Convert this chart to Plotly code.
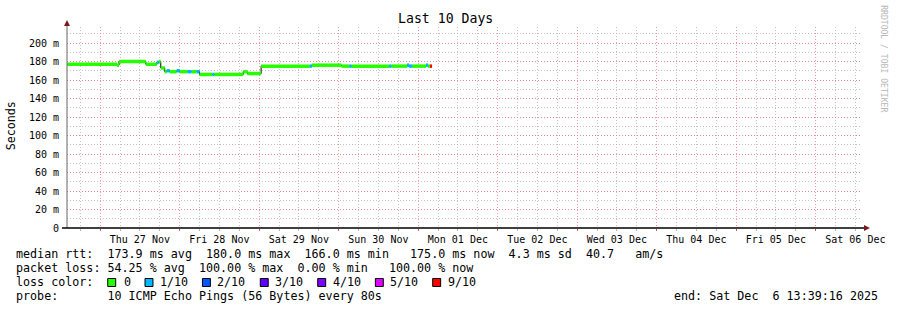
import plotly.graph_objects as go

# ---------------- data ----------------
# median RTT steps (start time, median rtt in ms, lost pings out of 10)
seg_start = [
    "2025-11-26 14:06", "2025-11-27 05:06", "2025-11-27 05:42", "2025-11-27 13:48",
    "2025-11-27 17:06", "2025-11-27 17:42", "2025-11-27 18:18", "2025-11-27 19:30",
    "2025-11-27 20:06", "2025-11-27 21:00", "2025-11-27 23:06", "2025-11-28 00:00",
    "2025-11-28 02:24", "2025-11-28 03:36", "2025-11-28 05:06", "2025-11-28 06:00",
    "2025-11-28 09:54", "2025-11-28 10:30", "2025-11-28 19:12", "2025-11-28 20:24",
    "2025-11-29 00:36", "2025-11-29 15:18", "2025-11-29 15:54", "2025-11-30 00:54",
    "2025-11-30 03:18", "2025-11-30 03:54", "2025-11-30 15:18", "2025-11-30 15:54",
    "2025-11-30 20:42", "2025-11-30 21:18", "2025-11-30 22:12", "2025-12-01 02:24",
    "2025-12-01 03:00", "2025-12-01 03:36",
]
seg_rtt_ms = [
    177, 176, 180, 177,
    179, 180, 173, 169,
    170, 169, 170, 169,
    169, 169, 169, 166,
    166, 166, 169, 167,
    175, 175, 176, 175,
    175, 175, 175, 175,
    176, 175, 175, 176,
    175, 175,
]
seg_loss = [
    0, 0, 0, 0,
    1, 0, 0, 0,
    1, 0, 1, 0,
    1, 0, 1, 0,
    1, 0, 0, 0,
    0, 1, 0, 0,
    1, 0, 1, 0,
    1, 1, 0, 1,
    0, 9,
]
data_end = "2025-12-01 04:12"

y_tick_vals = [0, 20, 40, 60, 80, 100, 120, 140, 160, 180, 200]
y_tick_text = ["0", "20 m", "40 m", "60 m", "80 m", "100 m", "120 m",
               "140 m", "160 m", "180 m", "200 m"]

loss_labels = ["0", "1/10", "2/10", "3/10", "4/10", "5/10", "9/10"]
loss_levels = [0, 1, 2, 3, 4, 5, 9]
loss_colors = ["#26ff00", "#00b8ff", "#0059ff", "#5e00ff", "#7e00ff", "#dd00ff", "#ff0000"]

title_text = "Last 10 Days"
stats_rtt = "median rtt:  173.9 ms avg  180.0 ms max  166.0 ms min   175.0 ms now  4.3 ms sd  40.7   am/s"
stats_loss = "packet loss: 54.25 % avg  100.00 % max  0.00 % min   100.00 % now"
probe_text = "probe:       10 ICMP Echo Pings (56 Bytes) every 80s"
end_text = "end: Sat Dec  6 13:39:16 2025"

# ---------------- layout helpers ----------------
W, H = 897, 310
L, R, T, B = 67, 867, 27, 228
FONT = "DejaVu Sans Mono"


def px(x):
    return (x - L) / (R - L)


def py(y):
    return (B - y) / (B - T)


def nb(s):
    return s.replace(" ", "\u00a0")


fig = go.Figure()

# thin black step line (gives dark verticals between levels)
fig.add_trace(go.Scatter(
    x=seg_start + [data_end], y=seg_rtt_ms + [seg_rtt_ms[-1]],
    mode="lines", line=dict(color="black", width=1, shape="hv"),
    hoverinfo="skip", showlegend=False))

# coloured horizontal median segments by loss
ends = seg_start[1:] + [data_end]
for lvl, col in zip(loss_levels, loss_colors):
    xs, ys = [], []
    for s, e, v, l in zip(seg_start, ends, seg_rtt_ms, seg_loss):
        if l == lvl:
            xs += [s, e, None]
            ys += [v, v, None]
    if xs:
        fig.add_trace(go.Scatter(x=xs, y=ys, mode="lines",
                                 line=dict(color=col, width=3.5),
                                 hoverinfo="skip", showlegend=False))

major_grid = "rgba(240,120,120,0.75)"
minor_grid = "rgba(170,170,170,0.7)"

fig.update_layout(
    width=W, height=H, autosize=False,
    margin=dict(l=L, r=W - R, t=T, b=H - B, pad=0),
    paper_bgcolor="white", plot_bgcolor="white",
    showlegend=False,
    font=dict(family=FONT, size=10, color="black"),
    xaxis=dict(
        type="date",
        range=["2025-11-26 14:00", "2025-12-06 14:00"],
        tick0="2025-11-27", dtick=86400000,
        tickformat="%a %d %b", ticklabelmode="period",
        showgrid=True, gridcolor=major_grid, griddash="1px,2px", gridwidth=1,
        ticks="outside", ticklen=2, tickcolor="#e05050",
        minor=dict(dtick=21600000, tick0="2025-11-27", showgrid=True,
                   gridcolor=minor_grid, griddash="1px,2px", gridwidth=1,
                   ticks="outside", ticklen=2, tickcolor="#bbbbbb"),
        showline=False, zeroline=False,
        tickfont=dict(family=FONT, size=10, color="black"),
        fixedrange=True,
    ),
    yaxis=dict(
        range=[0, (B - T) / 0.925],
        tickvals=y_tick_vals, ticktext=y_tick_text,
        showgrid=True, gridcolor=major_grid, griddash="1px,2px", gridwidth=1,
        minor=dict(dtick=10, tick0=0, showgrid=True, gridcolor=minor_grid,
                   griddash="1px,2px", gridwidth=1),
        ticks="outside", ticklen=5, tickcolor="rgba(0,0,0,0)",
        showline=False, zeroline=False,
        tickfont=dict(family=FONT, size=10, color="black"),
        fixedrange=True,
    ),
)

shapes = []
# y axis line + arrow
shapes.append(dict(type="line", xref="paper", yref="paper",
                   x0=px(67), x1=px(67), y0=py(228), y1=py(24),
                   line=dict(color="#666666", width=1)))
shapes.append(dict(type="path", xref="paper", yref="paper",
                   path=f"M {px(67)},{py(20)} L {px(64)},{py(26)} L {px(70)},{py(26)} Z",
                   fillcolor="#7a1a1a", line=dict(width=0)))
# x axis line + arrow
shapes.append(dict(type="line", xref="paper", yref="paper",
                   x0=px(62), x1=px(870), y0=py(228), y1=py(228),
                   line=dict(color="black", width=1.6)))
shapes.append(dict(type="path", xref="paper", yref="paper",
                   path=f"M {px(875)},{py(228)} L {px(869)},{py(225)} L {px(869)},{py(231)} Z",
                   fillcolor="#7a1a1a", line=dict(width=0)))

# loss colour legend squares
sq_x = [108, 145.5, 203.3, 261.5, 319.3, 377.3, 435]
lab_x = [124, 160.3, 218.3, 276.3, 334.3, 392.3, 450]
for sx, col in zip(sq_x, loss_colors):
    shapes.append(dict(type="rect", xref="paper", yref="paper",
                       x0=px(sx), x1=px(sx + 8), y0=py(286.5), y1=py(278.5),
                       fillcolor=col, line=dict(color="black", width=1)))
fig.update_layout(shapes=shapes)

ann = []


def add_text(x, y, text, size=11.7, anchor="left", color="black", angle=0):
    ann.append(dict(x=px(x), y=py(y), xref="paper", yref="paper",
                    text=nb(text), showarrow=False, xanchor=anchor,
                    yanchor="middle", textangle=angle,
                    borderpad=0, borderwidth=0,
                    font=dict(family=FONT, size=size, color=color)))


add_text(448, 19, title_text, size=13.2, anchor="center")
add_text(11, 126, "Seconds", size=11.7, anchor="center", angle=-90)
add_text(889, 59, "RRDTOOL / TOBI OETIKER", size=8.1, anchor="center",
         color="#b8b8b8", angle=90)
add_text(16, 254, stats_rtt)
add_text(16, 268, stats_loss)
add_text(16, 282, "loss color:")
for lx, lab in zip(lab_x, loss_labels):
    add_text(lx, 282, lab)
add_text(16, 296, probe_text)
add_text(678, 296, end_text)

fig.update_layout(annotations=ann)

fig.write_html("out.html")
